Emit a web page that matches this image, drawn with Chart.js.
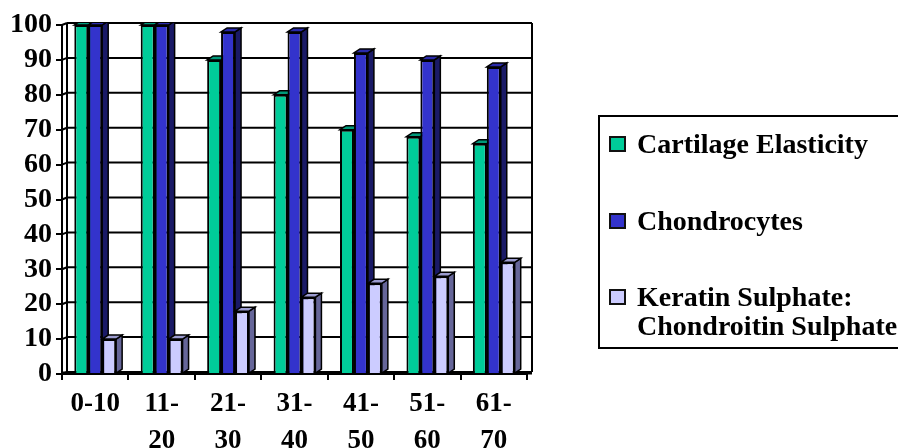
<!DOCTYPE html>
<html>
<head>
<meta charset="utf-8">
<script src="https://cdn.jsdelivr.net/npm/chart.js@4"></script>
<style>
  html, body { margin: 0; padding: 0; background: #fff; }
  #wrap { width: 898px; height: 448px; }
</style>
</head>
<body>
<div id="wrap"><canvas id="c" width="898" height="448"></canvas></div>
<script>
// Age groups (years) and the three measured series
const ageGroups = ['0-10', ['11-', '20'], ['21-', '30'], ['31-', '40'], ['41-', '50'], ['51-', '60'], ['61-', '70']];
const cartilageElasticity = [100, 100, 90, 80, 70, 68, 66];
const chondrocytes = [100, 100, 98, 98, 92, 90, 88];
const keratinChondroitin = [10, 10, 18, 22, 26, 28, 32];
const seriesNames = ['Cartilage Elasticity', 'Chondrocytes', ['Keratin Sulphate:', 'Chondroitin Sulphate']];
const yTicks = [0, 10, 20, 30, 40, 50, 60, 70, 80, 90, 100];

const FONT = "'Liberation Serif', 'Times New Roman', serif";
const faceColors = [
  { front: '#00CC99', top: '#00997A', side: '#006650' },
  { front: '#3333CC', top: '#2A2AAA', side: '#1A1A66' },
  { front: '#CCCCFF', top: '#9C9CD0', side: '#666699' }
];
const DX = 6, DY = 4;     // bar depth
const WX = 5, WY = 2;     // back wall offset

// Back wall, gridlines and the 3D top/side faces of each bar
const depthPlugin = {
  id: 'depth',
  beforeDatasetsDraw(chart) {
    const { ctx, chartArea: a, scales: { y } } = chart;
    ctx.save();
    ctx.strokeStyle = '#000';
    ctx.lineWidth = 2;
    // gridlines on the back wall
    yTicks.forEach(v => {
      const py = y.getPixelForValue(v);
      ctx.beginPath();
      ctx.moveTo(a.left + WX, py - WY);
      ctx.lineTo(a.right + WX, py - WY);
      ctx.stroke();
      ctx.beginPath();
      ctx.moveTo(a.left, py);
      ctx.lineTo(a.left + WX, py - WY);
      ctx.stroke();
    });
    ctx.beginPath();
    ctx.moveTo(a.left + WX, y.getPixelForValue(100) - WY);
    ctx.lineTo(a.left + WX, y.getPixelForValue(0) - WY);
    ctx.moveTo(a.right + WX, y.getPixelForValue(100) - WY);
    ctx.lineTo(a.right + WX, y.getPixelForValue(0) - WY);
    ctx.stroke();
    // floor edge
    ctx.lineWidth = 3;
    ctx.beginPath();
    ctx.moveTo(a.left, a.bottom - 1);
    ctx.lineTo(a.right + WX, a.bottom - 1);
    ctx.stroke();

    // clip faces to the wall top
    ctx.beginPath();
    ctx.rect(0, y.getPixelForValue(100) - WY, chart.width, chart.height);
    ctx.clip();
    ctx.lineWidth = 1.5;
    ctx.lineJoin = 'miter';
    chart.data.datasets.forEach((ds, di) => {
      const meta = chart.getDatasetMeta(di);
      meta.data.forEach(bar => {
        const l = bar.x - bar.width / 2, r = bar.x + bar.width / 2;
        const t = bar.y, b = bar.base;
        // side face
        ctx.fillStyle = faceColors[di].side;
        ctx.beginPath();
        ctx.moveTo(r, t); ctx.lineTo(r + DX, t - DY);
        ctx.lineTo(r + DX, b - DY); ctx.lineTo(r, b);
        ctx.closePath(); ctx.fill(); ctx.stroke();
        // top face
        ctx.fillStyle = faceColors[di].top;
        ctx.beginPath();
        ctx.moveTo(l, t); ctx.lineTo(l + DX, t - DY);
        ctx.lineTo(r + DX, t - DY); ctx.lineTo(r, t);
        ctx.closePath(); ctx.fill(); ctx.stroke();
      });
    });
    ctx.restore();
  },
  afterDraw(chart) {
    const { ctx } = chart;
    ctx.save();
    // legend box
    ctx.strokeStyle = '#000';
    ctx.lineWidth = 2;
    ctx.strokeRect(599, 116, 320, 232);
    ctx.font = `bold 28px ${FONT}`;
    ctx.textBaseline = 'middle';
    ctx.fillStyle = '#000';
    const rows = [144, 221, 297];
    chart.data.datasets.forEach((ds, di) => {
      const cy = rows[di];
      ctx.fillStyle = faceColors[di].front;
      ctx.fillRect(610, cy - 7, 15, 14);
      ctx.lineWidth = 2;
      ctx.strokeStyle = '#111';
      ctx.strokeRect(610, cy - 7, 15, 14);
      ctx.fillStyle = '#000';
      const lines = Array.isArray(seriesNames[di]) ? seriesNames[di] : [seriesNames[di]];
      lines.forEach((txt, li) => ctx.fillText(txt, 637, cy + 2 + li * 29));
    });
    ctx.restore();
  }
};

new Chart(document.getElementById('c'), {
  type: 'bar',
  data: {
    labels: ageGroups,
    datasets: seriesNames.map((name, i) => ({
      label: Array.isArray(name) ? name.join(' ') : name,
      data: [cartilageElasticity, chondrocytes, keratinChondroitin][i],
      backgroundColor: faceColors[i].front,
      borderColor: '#000',
      borderWidth: 2,
      categoryPercentage: 0.63,
      barPercentage: 1.0
    }))
  },
  options: {
    responsive: false,
    animation: false,
    layout: { padding: { top: 25, right: 371, left: 0, bottom: 0 } },
    plugins: { legend: { display: false }, tooltip: { enabled: false } },
    scales: {
      x: {
        offset: true,
        grid: { display: true, drawOnChartArea: false, drawTicks: true, tickLength: 6, color: '#000', lineWidth: 2, offset: true },
        border: { display: true, color: '#000', width: 2 },
        ticks: { color: '#000', font: { family: FONT, size: 27, weight: 'bold', lineHeight: 1.35 }, padding: 6, maxRotation: 0, autoSkip: false },
        afterFit(s) { s.height = 74; }
      },
      y: {
        min: 0, max: 100,
        grid: { display: true, drawOnChartArea: false, drawTicks: true, tickLength: 6, color: '#000', lineWidth: 2 },
        border: { display: true, color: '#000', width: 2 },
        ticks: { stepSize: 10, autoSkip: false, color: '#000', font: { family: FONT, size: 28, weight: 'bold' }, padding: 4 },
        afterFit(s) { s.width = 62; }
      }
    }
  },
  plugins: [depthPlugin]
});
</script>
</body>
</html>
